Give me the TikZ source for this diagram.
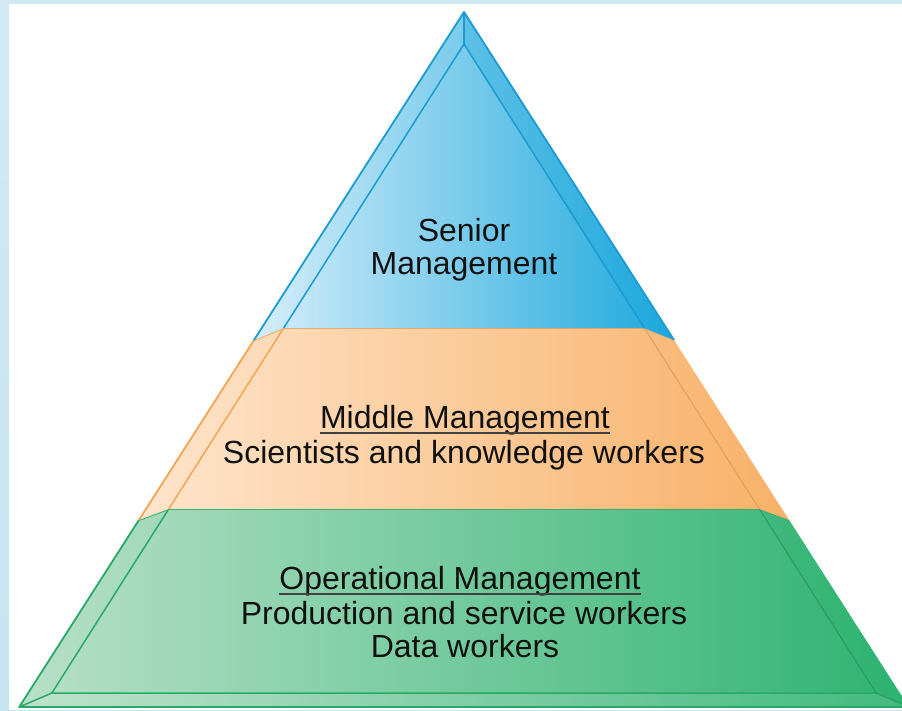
\documentclass[tikz,border=0pt]{standalone}
\usepackage{fontspec}
\setmainfont{Liberation Sans}
\definecolor{bgblue}{HTML}{C6E4F0}
\definecolor{bLight}{HTML}{D6EEFA}
\definecolor{bDark}{HTML}{1CA8DC}
\definecolor{bLine}{HTML}{1B9BD3}
\definecolor{oLight}{HTML}{FEE5CC}
\definecolor{oDark}{HTML}{F8B168}
\definecolor{oLine}{HTML}{F3A455}
\definecolor{gLight}{HTML}{B8E0C8}
\definecolor{gDark}{HTML}{2DB370}
\definecolor{gLine}{HTML}{2AA865}
\definecolor{txt}{HTML}{111111}
\tikzset{
  lbl/.style={inner sep=0pt, anchor=base, text=txt, font=\fontsize{32}{35}\selectfont},
  edge/.style={line width=1.8pt, line join=round},
  faint/.style={line width=1.1pt, opacity=0.45},
  uline/.style={line width=1.4pt, draw=txt!80}
}
\begin{document}
\begin{tikzpicture}[x=1pt,y=-1pt]
\useasboundingbox (0,0) rectangle (902,710);
% background
\fill[top color=bgblue!80, bottom color=bgblue] (0,0) rectangle (902,710);
\fill[white] (9,4) rectangle (902,710);
\begin{scope}
\clip (0,0) rectangle (902,710);
% key points
\coordinate (A) at (464,12);
\coordinate (Ai) at (464,44);
\coordinate (L1o) at (254,340);   \coordinate (R1o) at (674,340);
\coordinate (L1i) at (283.7,328); \coordinate (R1i) at (644.3,328);
\coordinate (L2o) at (138.9,520); \coordinate (R2o) at (789.1,520);
\coordinate (L2i) at (168.7,509); \coordinate (R2i) at (759.3,509);
\coordinate (L3o) at (19.2,707);  \coordinate (R3o) at (908.8,707);
\coordinate (L3i) at (51.9,693);  \coordinate (R3i) at (876.1,693);
% ---- green section
\shade[left color=gLight, right color=gDark] (L2o) -- (L2i) -- (R2i) -- (R2o) -- (R3o) -- (L3o) -- cycle;
\fill[gDark, opacity=0.2] (R2i) -- (R2o) -- (R3o) -- (R3i) -- cycle;
\fill[white, opacity=0.10] (L3i) -- (R3i) -- (R3o) -- (L3o) -- cycle;
\draw[edge, gLine] (L2o) -- (L3o) -- (R3o);
\draw[edge, gLine] (L2o) -- (L2i) -- (R2i);
\draw[edge, gLine, line width=1.5pt] (L2i) -- (L3i) -- (R3i);
\draw[edge, gLine, line width=1.5pt] (L3o) -- (L3i);
\draw[faint, gLine!70!black] (R2i) -- (R3i) -- (R3o);
\draw[faint, gLine!70!black] (R2i) -- (R2o);
% ---- orange section
\shade[left color=oLight, right color=oDark] (L1o) -- (L1i) -- (R1i) -- (R1o) -- (R2o) -- (R2i) -- (L2i) -- (L2o) -- cycle;
\draw[edge, oLine] (L1o) -- (L2o);
\draw[edge, oLine] (L1o) -- (L1i) -- (R1i);
\draw[edge, oLine, line width=1.5pt] (L1i) -- (L2i);
\draw[faint, oLine!80!black] (R1i) -- (R2i);
\draw[faint, oLine!80!black] (R1i) -- (R1o);
% ---- blue section
\shade[left color=bLight, right color=bDark] (A) -- (R1o) -- (R1i) -- (L1i) -- (L1o) -- cycle;
\fill[bDark, opacity=0.3] (A) -- (R1o) -- (R1i) -- (Ai) -- cycle;
\draw[edge, bLine] (L1o) -- (A) -- (R1o);
\draw[edge, bLine, line width=1.5pt] (L1i) -- (Ai) -- (R1i);
\draw[edge, bLine, line width=1.5pt] (A) -- (Ai);
\end{scope}
% ---- labels
\node[lbl] (sen1) at (464,241) {Senior};
\node[lbl] (sen2) at (464,274) {Management};
\node[lbl] (mid1) at (465,428) {Middle Management};
\node[lbl] (mid2) at (464,463) {Scientists and knowledge workers};
\node[lbl] (op1) at (460,589) {Operational Management};
\node[lbl] (op2) at (464,624) {Production and service workers};
\node[lbl] (op3) at (465,657) {Data workers};
\draw[uline] ([yshift=-5pt]mid1.base west) -- ([yshift=-5pt]mid1.base east);
\draw[uline] ([yshift=-5pt]op1.base west) -- ([yshift=-5pt]op1.base east);
\end{tikzpicture}
\end{document}
